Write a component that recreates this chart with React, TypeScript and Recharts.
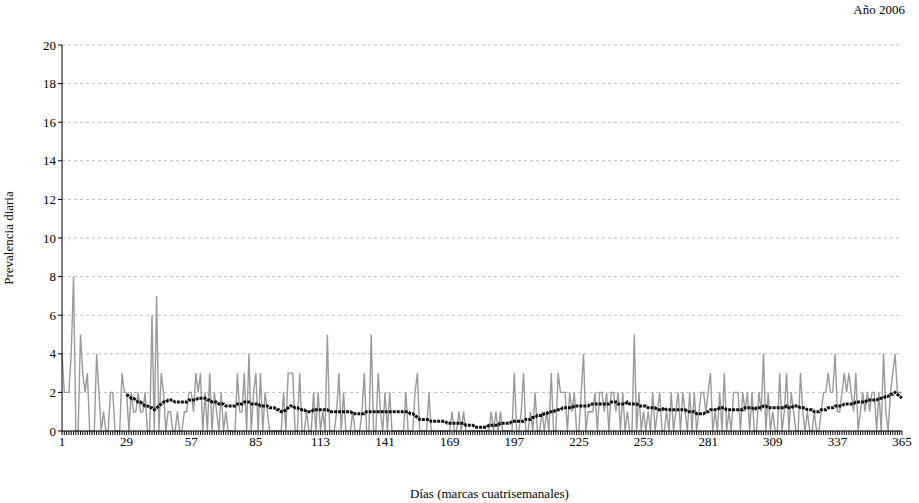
import React from 'react';
import { LineChart, Line, XAxis, YAxis, CartesianGrid } from 'recharts';

// daily prevalence, days 1..365 (rows of 28 days)
const daily: number[] = [
  4, 2, 2, 2, 4, 8, 0, 0, 5, 3, 2, 3, 0, 0, 0, 4, 2, 0, 1, 0, 0, 2, 2, 0, 0, 0, 3, 2,
  2, 0, 2, 1, 1, 2, 1, 1, 2, 0, 0, 6, 0, 7, 0, 3, 2, 0, 1, 1, 0, 0, 1, 0, 0, 1, 1, 2,
  2, 1, 3, 2, 3, 0, 2, 0, 3, 0, 2, 1, 0, 2, 0, 1, 0, 0, 0, 0, 3, 1, 1, 3, 0, 4, 0, 2,
  3, 0, 3, 0, 2, 1, 0, 0, 0, 0, 0, 0, 2, 0, 3, 3, 3, 0, 0, 3, 0, 0, 1, 0, 0, 2, 0, 2,
  0, 1, 0, 5, 0, 0, 0, 1, 3, 0, 2, 0, 0, 0, 1, 0, 0, 0, 1, 3, 0, 0, 5, 0, 0, 3, 1, 0,
  2, 0, 2, 0, 0, 0, 0, 0, 0, 2, 0, 0, 0, 2, 3, 0, 0, 0, 0, 2, 0, 0, 0, 0, 0, 0, 0, 0,
  0, 1, 0, 0, 1, 0, 1, 0, 0, 0, 0, 0, 0, 0, 0, 0, 0, 0, 1, 0, 1, 0, 1, 0, 0, 0, 0, 0,
  3, 0, 0, 1, 3, 0, 0, 1, 0, 2, 0, 0, 1, 0, 1, 0, 3, 0, 0, 3, 2, 2, 2, 0, 2, 1, 2, 0,
  0, 2, 4, 0, 1, 1, 1, 2, 0, 2, 2, 1, 2, 0, 2, 2, 1, 2, 0, 2, 0, 1, 0, 0, 5, 0, 2, 0,
  1, 0, 1, 0, 2, 0, 1, 2, 0, 0, 1, 0, 2, 0, 1, 2, 0, 2, 1, 0, 2, 0, 2, 0, 1, 2, 2, 1,
  2, 3, 0, 1, 0, 2, 0, 3, 0, 1, 0, 2, 2, 2, 0, 2, 1, 2, 0, 2, 0, 0, 2, 1, 4, 0, 2, 0,
  1, 0, 0, 3, 0, 1, 3, 0, 2, 1, 0, 0, 3, 1, 0, 1, 0, 0, 1, 0, 0, 1, 2, 2, 3, 2, 2, 4,
  1, 1, 2, 3, 2, 3, 2, 1, 3, 0, 1, 2, 1, 2, 1, 2, 2, 0, 2, 0, 4, 1, 0, 2, 3, 4, 2, 2,
  2,
];

// moving average, days 29..365
const trend: number[] = [
  1.9, 1.8, 1.7, 1.7, 1.6, 1.5, 1.5, 1.4, 1.3, 1.3, 1.2, 1.2, 1.1, 1.2, 1.3, 1.4, 1.5, 1.5, 1.6, 1.6, 1.6, 1.5, 1.5, 1.5, 1.5, 1.5, 1.5, 1.6,
  1.6, 1.6, 1.6, 1.7, 1.7, 1.7, 1.7, 1.6, 1.6, 1.5, 1.5, 1.5, 1.4, 1.4, 1.4, 1.3, 1.3, 1.3, 1.3, 1.3, 1.4, 1.4, 1.4, 1.5, 1.5, 1.5, 1.4, 1.4,
  1.4, 1.4, 1.3, 1.3, 1.3, 1.3, 1.2, 1.2, 1.2, 1.1, 1.1, 1.0, 1.0, 1.1, 1.2, 1.3, 1.3, 1.2, 1.2, 1.1, 1.1, 1.1, 1.0, 1.0, 1.0, 1.1, 1.1, 1.1,
  1.1, 1.1, 1.1, 1.1, 1.0, 1.0, 1.0, 1.0, 1.0, 1.0, 1.0, 1.0, 1.0, 1.0, 0.9, 0.9, 0.9, 0.9, 0.9, 0.9, 1.0, 1.0, 1.0, 1.0, 1.0, 1.0, 1.0, 1.0,
  1.0, 1.0, 1.0, 1.0, 1.0, 1.0, 1.0, 1.0, 1.0, 1.0, 1.0, 0.9, 0.9, 0.8, 0.7, 0.6, 0.6, 0.6, 0.6, 0.6, 0.5, 0.5, 0.5, 0.5, 0.5, 0.5, 0.5, 0.4,
  0.4, 0.4, 0.4, 0.4, 0.4, 0.4, 0.4, 0.3, 0.3, 0.3, 0.3, 0.2, 0.2, 0.2, 0.2, 0.2, 0.2, 0.3, 0.3, 0.3, 0.3, 0.3, 0.4, 0.4, 0.4, 0.4, 0.4, 0.5,
  0.5, 0.5, 0.5, 0.5, 0.5, 0.6, 0.6, 0.6, 0.7, 0.7, 0.8, 0.8, 0.8, 0.9, 0.9, 1.0, 1.0, 1.0, 1.1, 1.1, 1.1, 1.2, 1.2, 1.2, 1.2, 1.2, 1.3, 1.3,
  1.3, 1.3, 1.3, 1.3, 1.3, 1.4, 1.4, 1.4, 1.4, 1.4, 1.4, 1.4, 1.4, 1.4, 1.5, 1.5, 1.5, 1.4, 1.4, 1.4, 1.4, 1.5, 1.4, 1.4, 1.4, 1.4, 1.3, 1.3,
  1.3, 1.3, 1.2, 1.2, 1.2, 1.2, 1.1, 1.1, 1.1, 1.2, 1.1, 1.1, 1.1, 1.1, 1.1, 1.1, 1.1, 1.1, 1.1, 1.0, 1.0, 1.0, 1.0, 0.9, 0.9, 0.9, 0.9, 1.0,
  1.0, 1.1, 1.1, 1.1, 1.1, 1.2, 1.2, 1.2, 1.1, 1.1, 1.1, 1.1, 1.1, 1.1, 1.1, 1.1, 1.2, 1.2, 1.2, 1.2, 1.1, 1.2, 1.2, 1.2, 1.3, 1.3, 1.2, 1.2,
  1.2, 1.2, 1.2, 1.2, 1.2, 1.2, 1.3, 1.2, 1.2, 1.3, 1.3, 1.3, 1.2, 1.2, 1.2, 1.1, 1.1, 1.1, 1.0, 1.0, 1.0, 1.1, 1.1, 1.1, 1.2, 1.2, 1.2, 1.3,
  1.3, 1.3, 1.3, 1.4, 1.4, 1.4, 1.4, 1.4, 1.5, 1.5, 1.5, 1.5, 1.5, 1.6, 1.6, 1.6, 1.6, 1.6, 1.7, 1.7, 1.7, 1.8, 1.8, 1.9, 1.9, 2.0, 1.9, 1.8, 1.7,
];

const trendStart = 29;
const labelDays = [1, 29, 57, 85, 113, 141, 169, 197, 225, 253, 281, 309, 337, 365];
const yTicks = [0, 2, 4, 6, 8, 10, 12, 14, 16, 18, 20];

const data = daily.map((v, i) => {
  const day = i + 1;
  const t = day >= trendStart ? trend[day - trendStart] : null;
  return { day, value: v, trend: t ?? null };
});

const allDays = daily.map((_, i) => i + 1);
const font = '"Liberation Serif", "Times New Roman", serif';

export default function App() {
  return (
    <div style={{ position: 'absolute', left: 0, top: 0, width: 919, height: 503, background: '#fff', fontFamily: font }}>
      <div style={{ position: 'absolute', right: 14, top: 2, fontSize: 13 }}>Año 2006</div>
      <div style={{ position: 'absolute', left: 0, width: 919, top: 486, textAlign: 'center', fontSize: 13, paddingLeft: 60, boxSizing: 'border-box' }}>
        Días (marcas cuatrisemanales)
      </div>
      <LineChart width={919} height={503} data={data} margin={{ top: 45, right: 17, left: 0, bottom: 42 }}>
        <CartesianGrid horizontal vertical={false} stroke="#bbb" strokeDasharray="3 3" />
        <XAxis
          dataKey="day"
          type="number"
          domain={[1, 365]}
          ticks={allDays}
          interval={0}
          tickFormatter={(d: number) => (labelDays.includes(d) ? String(d) : '')}
          tick={{ fontSize: 13, fill: '#000', fontFamily: font }}
          tickLine={{ stroke: '#000' }}
          tickSize={4}
          axisLine={{ stroke: '#000' }}
          height={30}
        />
        <YAxis
          domain={[0, 20]}
          ticks={yTicks}
          width={62}
          tick={{ fontSize: 13, fill: '#000', fontFamily: font }}
          tickLine={{ stroke: '#000' }}
          tickSize={4}
          axisLine={{ stroke: '#000' }}
          label={{ value: 'Prevalencia diaria', angle: -90, position: 'insideLeft', offset: 8, style: { textAnchor: 'middle', fontSize: 13, fill: '#000', fontFamily: font } }}
        />
        <Line type="linear" dataKey="value" stroke="#9a9a9a" strokeWidth={1.4} dot={false} isAnimationActive={false} />
        <Line type="linear" dataKey="trend" stroke="#111" strokeWidth={3} strokeDasharray="3 1" dot={false} connectNulls={false} isAnimationActive={false} />
      </LineChart>
    </div>
  );
}
